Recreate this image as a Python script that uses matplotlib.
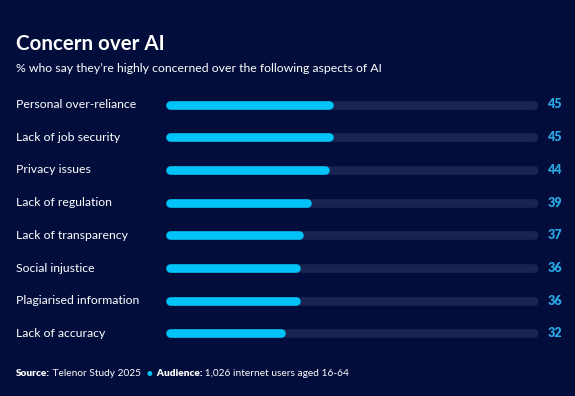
import matplotlib
matplotlib.use("Agg")
import matplotlib.pyplot as plt

# data
aspects = ["Personal over-reliance", "Lack of job security", "Privacy issues",
           "Lack of regulation", "Lack of transparency", "Social injustice",
           "Plagiarised information", "Lack of accuracy"]
values = [45, 45, 44, 39, 37, 36, 36, 32]

W, H = 575, 396
bg = "#020d3b"
bar_color = "#00c4f7"
track_color = "#1a2452"
value_color = "#2aa6e2"
font = "Lato"

fig = plt.figure(figsize=(W / 100, H / 100), dpi=100, facecolor=bg)


def px(x, y):
    # pixel coords (from top-left) -> figure fraction
    return x / W, 1 - y / H


# axes for the bars, 0-100 spans the whole track
x0, x1 = 166, 538
row_top, row_gap = 104.5, 32.7
top = row_top - row_gap / 2
bottom = top + row_gap * len(aspects)
ax = fig.add_axes([x0 / W, 1 - bottom / H, (x1 - x0) / W, (bottom - top) / H])
ax.set_facecolor(bg)
ax.set_xlim(0, 100)
ax.set_ylim(len(aspects) - 0.5, -0.5)
ax.axis("off")

bar_px = 8.6
lw = bar_px * 72 / 100
r = (bar_px / 2) / ((x1 - x0) / 100)  # half cap in data units
rows = list(range(len(aspects)))
ax.hlines(rows, r, 100 - r, color=track_color, linewidth=lw, capstyle="round")
ax.hlines(rows, r, [v - r for v in values], color=bar_color, linewidth=lw, capstyle="round")

for i, (name, v) in enumerate(zip(aspects, values)):
    yy = row_top + i * row_gap
    fig.text(*px(16, yy), name, color="white", fontsize=8.8, family=font,
             va="center", ha="left")
    fig.text(*px(562, yy), str(v), color=value_color, fontsize=9, family=font,
             fontweight="heavy", va="center", ha="right")

fig.text(*px(16, 44), "Concern over AI", color="white", fontsize=14.8, family=font,
         fontweight="bold", va="center", ha="left")
fig.text(*px(16, 69), "% who say they\u2019re highly concerned over the following aspects of AI",
         color="white", fontsize=8.8, family=font, va="center", ha="left")

# footer, pieces placed one after another
renderer = fig.canvas.get_renderer()
parts = [("Source:", "heavy", "white", 7.3), (" Telenor Study 2025  ", "normal", "white", 7.3),
         ("\u2022", "heavy", bar_color, 7.3), ("  Audience:", "heavy", "white", 7.3),
         (" 1,026 internet users aged 16-64", "normal", "white", 7.3)]
xpos = 16
for s, weight, col, size in parts:
    t = fig.text(*px(xpos, 374), s, color=col, fontsize=size, family=font,
                 fontweight=weight, va="center", ha="left")
    xpos += t.get_window_extent(renderer).width

fig.savefig("out.png", dpi=100, facecolor=bg)
